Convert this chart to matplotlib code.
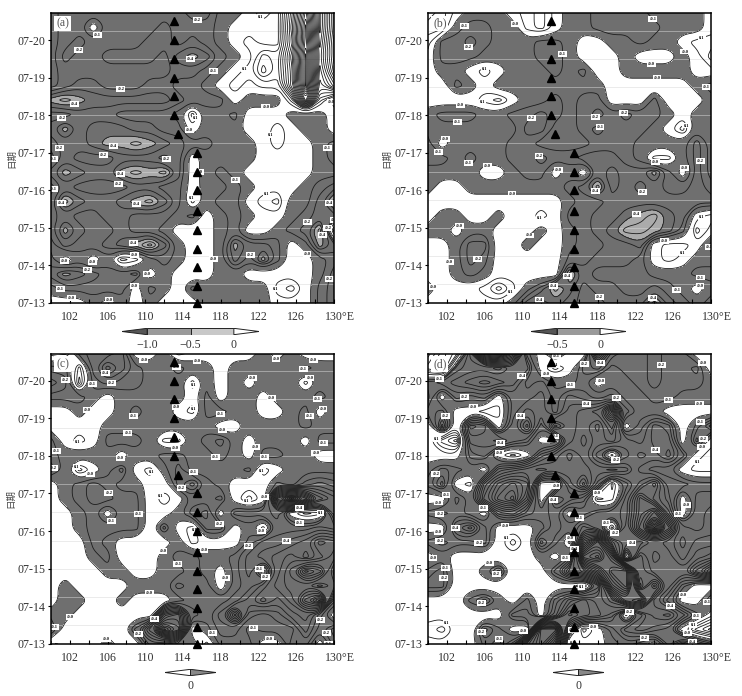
import numpy as np
import matplotlib
matplotlib.use("Agg")
import matplotlib.pyplot as plt
from matplotlib.path import Path
from matplotlib.transforms import ScaledTranslation

plt.rcParams['font.family'] = ['Liberation Serif', 'DejaVu Serif']

# anomaly values in tenths, top row is the latest time
lon = [100 + 1.5*i for i in range(21)]
day = [20.72 - 0.386*i for i in range(21)]

field_a = [
[-1,-2,-2,-2,-2,-2,-2,-2,-2,-2,-3,-3,-1,-1,1,2,1,8,18,6,14],
[-1,-2,-2,1,-2,-2,-2,-2,-3,-2,-2,-2,-1,1,1,1,1,9,20,6,14],
[-1,-2,-3,-2,-2,-2,-2,-3,-3,-2,-3,-2,-1,1,2,1,1,8,20,7,15],
[-1,-3,-2,-2,-3,-3,-3,-3,-2,-4,-5,-4,-2,-1,1,4,3,10,22,8,15],
[-1,-2,-2,-2,-2,-2,-2,-2,-2,-3,-3,-2,-1,1,2,5,3,9,22,7,14],
[-1,-2,-3,-3,-2,-2,-2,-3,-3,-2,-2,-1,1,2,1,2,2,9,22,6,10],
[-5,-6,-5,-4,-4,-4,-4,-4,-4,-3,-2,-2,-2,1,-1,-1,-1,3,16,3,-1],
[-2,-2,-3,-3,-3,-2,-2,-2,-2,-1,3,-1,-1,-2,1,1,1,-1,-1,-1,1],
[-3,-5,-3,-4,-4,-4,-3,-3,-2,-2,1,-1,-1,-1,1,1,2,1,-1,-1,1],
[-2,-3,-3,-4,-5,-5,-6,-5,-4,-3,-2,-2,-1,-1,-1,1,2,1,1,-1,-2],
[-1,-3,-2,-2,-2,-3,-3,-3,-2,-3,1,-1,-1,-1,-1,1,1,1,1,-1,-2],
[-3,-5,-4,-3,-3,-5,-6,-5,-6,-3,1,-1,-2,-1,1,1,1,1,1,-1,-1],
[-1,-3,-2,-2,-2,-2,-3,-3,-2,-2,1,-1,-1,-2,-1,1,1,1,-1,-2,-3],
[-2,-6,-4,-3,-3,-4,-5,-6,-4,-2,2,-1,-2,-2,1,2,3,-1,-1,-3,-6],
[-2,-3,-2,-2,-3,-3,-2,-2,-2,-1,-2,1,-1,-2,-1,1,1,-1,-2,-3,-3],
[-2,-5,-3,-2,-2,-3,-2,-2,-1,1,1,1,-1,-2,1,1,-1,-2,-3,-6,3],
[-1,-3,-2,-2,-3,-4,-5,-7,-4,-1,1,1,-1,-5,-3,-3,-2,1,-1,-5,-3],
[-2,1,-1,1,-1,3,2,-1,-2,-1,1,1,-1,-4,-2,-5,-2,1,1,-1,-2],
[-3,-5,-4,-3,-2,-2,-3,1,-1,1,1,1,-1,-1,1,1,1,1,1,-1,-3],
[-1,-2,-2,-2,-2,-2,1,-2,-1,1,-2,-1,-1,-1,-1,-1,2,3,1,-2,-3],
[1,1,1,-1,1,-1,1,-1,1,1,1,-1,-1,-1,-1,-1,1,1,1,-2,-3],
]

field_b = [
[2,3,1,-1,-1,-1,1,2,3,1,-1,-1,-2,-2,-2,-2,-1,-1,-1,-1,1],
[3,3,-1,-2,-2,-1,-1,2,3,1,-1,-1,-2,-2,-2,-2,-2,-1,-1,-1,1],
[2,-2,-2,-3,-2,-1,-1,-1,-2,-2,-1,1,1,-1,-1,-2,-1,-1,1,2,2],
[1,-2,-2,-2,-1,-1,-1,-1,-2,-2,-1,1,1,1,-1,1,1,1,-1,1,3],
[1,-1,-1,1,2,1,-1,-1,-1,-2,-1,-2,1,1,-1,-1,-1,-1,-1,1,1],
[1,1,-2,-1,1,-1,-1,-1,-1,-1,-1,-1,-1,1,1,1,1,1,1,-1,-2],
[1,1,1,1,2,3,1,-1,-1,-2,-1,-2,-2,1,1,1,-2,1,1,1,-1],
[-1,-2,-2,-2,-1,-1,-2,-2,-3,-2,-1,-2,-3,-2,-3,-2,-2,-1,1,-1,-1],
[-1,-1,-1,-1,-1,-1,-1,-3,-3,-1,-1,-2,-1,-2,-2,-2,-1,1,3,-1,-1],
[-2,1,-1,-1,-1,-1,-2,-2,-1,-1,-1,-1,-2,-2,-2,-1,-1,-1,-1,-3,-1],
[-2,-2,-1,-2,-1,-1,-2,-2,-3,-2,-2,-3,-3,-3,-2,-1,2,2,-1,-3,-1],
[-1,-1,-1,-1,1,1,-1,-2,-2,1,-1,1,-3,-2,-3,-3,-5,-2,1,-3,-1],
[-1,1,1,-1,-1,-1,-1,-1,-1,-1,-2,-3,-6,-2,-3,-2,-3,-2,-2,-3,-2],
[1,1,1,1,1,1,1,1,1,1,-1,-2,-2,-3,-3,-3,-3,-3,-3,-3,-3],
[1,-1,-1,1,1,-1,1,1,2,1,-2,-2,-3,-3,-4,-5,-6,-4,-3,1,2],
[-1,-1,1,-1,-1,1,1,1,-1,1,-1,-2,-3,-4,-6,-6,-5,-4,-2,3,1],
[1,1,-1,-3,-3,1,1,-1,1,1,-1,-2,-2,-3,-3,-4,1,2,2,1,-2],
[1,1,-1,-3,-2,1,1,1,1,1,-2,-2,-3,-3,-3,-2,1,2,1,-1,-1],
[1,1,-1,-2,-1,1,1,1,1,1,-6,-3,-2,-2,-2,-2,-1,-1,-1,-2,-2],
[-1,1,1,1,2,4,2,-1,-3,-6,-4,-2,-3,-3,-2,-2,-3,-2,-1,1,-1],
[1,1,1,1,1,1,-1,-4,-5,-4,-3,-2,-2,-3,-3,-3,-6,-3,-2,-1,-2],
]

field_c = [
[2,3,-2,-3,-3,-4,1,1,-1,2,1,1,1,1,1,-1,1,-1,1,1,1],
[-2,-2,3,-3,-6,-4,-2,-1,-1,-2,-1,-1,1,-1,-1,-1,-1,-1,-2,-1,-1],
[-4,-3,4,-2,-3,-2,-2,-1,-1,-1,2,-1,1,-1,1,-1,-1,-1,2,-1,-1],
[-2,-2,-2,-1,1,-1,-1,-1,-1,-1,1,-2,1,-1,-1,1,-1,-1,-1,-2,-1],
[1,1,-1,1,1,-1,-2,-1,-1,1,2,-2,-2,-1,-1,1,1,-1,-2,1,-1],
[1,1,1,1,-1,-1,-1,-1,-1,-1,-1,-1,1,1,-1,-1,-1,-1,-2,-1,-1],
[-2,1,2,1,-2,-2,-2,-1,2,2,-1,-2,-3,-1,1,-1,-1,-1,1,-2,-2],
[-2,-1,-1,-1,-1,1,-1,-1,-2,-2,-1,-1,-2,-1,1,-2,-2,-1,-1,1,1],
[-3,-1,3,1,-1,-3,1,2,-1,-3,-1,-1,-1,-1,-2,2,1,-1,-1,-1,-1],
[1,-1,-2,-3,-2,-1,-1,1,1,-3,-5,-2,-1,1,1,1,-2,-1,-3,-4,-3],
[1,-1,-2,-3,-3,-2,-2,1,2,1,-2,-2,-3,1,3,1,-14,-20,-14,-8,-6],
[1,1,-1,-2,1,-2,-2,1,1,-1,-3,-4,1,-3,-3,-3,-4,1,3,2,-6],
[1,1,-1,-2,-2,-2,-2,1,-3,1,2,-3,-3,1,-1,2,-3,-3,-3,-4,-3],
[1,1,1,-2,-1,1,1,1,1,-1,2,1,1,1,-2,-4,-4,-5,-6,-9,-8],
[1,1,1,-1,-2,1,1,1,-1,-2,-2,-1,-1,-2,-4,-5,-6,-7,-5,-7,-9],
[1,1,1,1,-1,-1,1,1,-1,-1,-2,-1,1,-2,-4,1,-6,-9,-14,-12,-6],
[1,-1,1,1,1,1,-1,-1,-1,-3,-2,-2,1,-2,-3,-5,-7,-8,-8,-6,-8],
[1,-1,-1,1,1,-1,1,1,1,-1,-2,-2,-2,-3,-5,-7,-5,-7,-12,-16,-3],
[-1,-1,1,1,1,1,1,1,-10,-12,-3,-2,-4,-10,-3,-2,-3,-5,-6,-3,1],
[-3,1,1,1,1,1,-3,-8,-18,-14,1,-1,-3,-3,-1,-2,-2,-2,-5,-2,-4],
[2,1,1,1,-1,1,1,-4,-3,-1,-1,2,-2,-2,-2,1,1,-3,-3,1,-3],
]

field_d = [
[3,6,4,-5,-18,-20,-14,-2,1,-3,1,1,-10,-3,-2,-2,-3,-2,-2,1,1],
[5,7,-3,-4,-4,-3,-5,-5,1,3,1,-3,-4,-1,-2,-2,-3,-2,-2,-3,1],
[-3,-4,-5,-6,-7,-6,-5,-2,-3,-1,-1,-2,1,-1,-1,-2,-3,-2,-2,-2,-1],
[-4,1,-3,-2,-3,1,-3,-3,-4,-2,-4,-3,-2,-3,-1,-1,-2,-2,-1,-1,-1],
[-2,-3,1,1,2,2,-3,-5,-4,-2,-5,-6,-7,-14,-3,-1,-1,1,1,1,1],
[1,-6,1,-7,-6,1,-4,-8,-2,-8,-5,-6,-4,-8,1,-2,-5,-4,1,-2,-5],
[1,4,6,-5,-5,-6,-4,-3,1,1,-5,-7,-5,-6,-4,-3,-5,-5,1,-4,1],
[1,1,1,-3,-4,1,3,1,-4,-6,-8,-6,-3,2,-3,-5,-4,-6,-3,1,2],
[-1,-3,-2,-1,1,-5,-6,-7,-8,-7,-7,-7,-6,-7,-6,-3,-2,-2,1,2,2],
[-2,-5,1,2,-6,-10,-12,-10,1,1,-6,-10,-4,3,-2,-5,-8,-3,-3,-2,-2],
[1,1,-3,-1,-8,-12,-14,-8,1,-6,-4,-3,3,2,-4,-10,-6,-4,1,-3,-3],
[-2,-3,-2,-1,1,-5,-6,-3,-2,-3,1,-1,-3,-3,-4,-10,-14,-6,1,-3,-4],
[1,1,-5,-7,-3,1,1,1,-1,-3,-2,-5,-3,3,-5,-12,-22,-12,-4,-3,-4],
[-2,-3,-2,-2,-3,1,3,1,-5,-2,2,-12,-18,-8,-5,-4,-6,-5,-3,-5,-5],
[1,-1,1,1,1,1,1,1,-1,1,-2,-20,-22,-16,1,-8,-5,-6,-4,-6,-7],
[-2,-3,1,1,-1,-4,1,1,1,-3,-8,-10,-14,-20,-20,-8,-6,-6,-6,-10,-14],
[-3,-3,1,1,1,1,1,1,1,1,1,3,-3,-16,-20,-6,-12,-6,-2,1,1],
[1,1,1,-2,-4,-1,1,-2,1,-3,-6,-8,-6,-8,-14,-16,-6,-3,1,1,-3],
[1,1,1,1,1,1,-3,-3,1,-4,-10,-8,-7,-5,2,-4,-7,-8,-5,-2,1],
[2,3,1,1,-4,-2,1,1,-20,-20,-3,3,1,-2,-5,-6,-5,-4,1,4,6],
[1,1,1,1,-2,-1,-4,-16,-20,-14,2,1,1,-1,-2,-1,1,-4,-8,-5,-3],
]

# typhoon track
track_lon = [115.5,115.5,115.5,115.5,115.5,115.5,115.5,115.5,115.5,113.5,113,113,113,113,113,113]
track_day = [13,13.45,13.95,14.45,14.95,15.45,16,16.5,17,17.5,18,18.5,19,19.5,20,20.5]

xticks = [102,106,110,114,118,122,126,130]
xlabels = ['102','106','110','114','118','122','126','130°E']
yticks = [13,14,15,16,17,18,19,20]
ylabels = ['07-13','07-14','07-15','07-16','07-17','07-18','07-19','07-20']

W, H = 742, 696
fig = plt.figure(figsize=(W/100, H/100), dpi=100)

def px_axes(x0, y0, x1, y1):
    return fig.add_axes([x0/W, 1-y1/H, (x1-x0)/W, (y1-y0)/H])

def on_edge(a):
    return (np.abs(a[:,0]-100) < 1e-6) | (np.abs(a[:,0]-130) < 1e-6) | (np.abs(a[:,1]-13) < 1e-6) | (np.abs(a[:,1]-20.72) < 1e-6)

def round_path(path, passes=3):
    # corner cutting, so the contours are not drawn as grid polygons; edge points stay put
    parts = []
    for v in path.to_polygons(closed_only=False):
        closed = len(v) > 2 and np.allclose(v[0], v[-1])
        if closed:
            v = v[:-1]
        for _ in range(passes):
            a = v if closed else v[:-1]
            b = np.roll(v, -1, axis=0) if closed else v[1:]
            q = np.where(on_edge(a)[:,None], a, 0.75*a+0.25*b)
            r = np.where(on_edge(b)[:,None], b, 0.25*a+0.75*b)
            v = np.empty((2*len(a),2))
            v[0::2] = q
            v[1::2] = r
        if closed:
            v = np.vstack([v, v[:1]])
        parts.append(Path(v))
    if not parts:
        return path
    return Path.make_compound_path(*parts)

def panel(field, box, tag, ylab_x, light):
    ax = px_axes(*box)
    z = np.array(field)[::-1]/10
    x = np.array(lon)
    y = np.array(day)[::-1]
    if light:
        cf = ax.contourf(x, y, z, levels=[-5,-0.45,0,5], colors=['#ababab','#6f6f6f','white'], zorder=1)
    else:
        cf = ax.contourf(x, y, z, levels=[-5,0,5], colors=['#6f6f6f','white'], zorder=1)
    cf.set_paths([round_path(p) for p in cf.get_paths()])
    ax.hlines(np.arange(13.5,20.7,0.75), 100, 130, color='#d8d8d8', lw=0.6, alpha=0.6, zorder=2)
    step = np.arange(0.15,2.4,0.1)
    lv = np.round(np.concatenate([-step[::-1],[0],step]),2)
    cs = ax.contour(x, y, z, levels=lv, colors='#1c1c1c', linewidths=0.6, linestyles='solid', zorder=3)
    cs.set_paths([round_path(p) for p in cs.get_paths()])
    names = {v: '%.1f' % (np.sign(v)*(abs(v)-0.05)) for v in lv}
    lab = ax.clabel(cs, levels=[-0.45,-0.25,-0.15,0,0.15], fontsize=3.2, fmt=names, inline=False)
    fig.canvas.draw()
    kept = [ax.transAxes.transform((0.05,0.96))]
    for t in list(lab):
        p = ax.transData.transform(t.get_position())
        if any(abs(p[0]-k[0]) < 22 and abs(p[1]-k[1]) < 12 for k in kept[:1]) or \
           any(abs(p[0]-k[0]) < 16 and abs(p[1]-k[1]) < 7 for k in kept[1:]):
            t.remove()
            continue
        kept.append(p)
        t.set_rotation(0)
        t.set_fontweight('bold')
        t.set_color('black')
        t.set_bbox(dict(fc='white', ec='none', pad=0.7))
        t.set_zorder(4)
    ax.plot(track_lon, track_day, ls='none', marker='^', ms=6, color='black', clip_on=False, zorder=6)
    ax.set_xlim(100,130)
    ax.set_ylim(13,20.72)
    ax.set_xticks(xticks)
    ax.set_xticks([100,104,108,112,116,120,124,128], minor=True)
    ax.set_xticklabels(xlabels, fontsize=8.6, color='#333333')
    ax.set_yticks(yticks)
    ax.set_yticklabels(ylabels, fontsize=8.6, color='#333333')
    ax.tick_params(axis='x', which='both', direction='in', length=3, width=0.8, pad=6)
    ax.tick_params(axis='y', direction='out', length=2.5, width=0.8, pad=1.5)
    last = ax.get_xticklabels()[-1]
    last.set_transform(last.get_transform()+ScaledTranslation(0.06, 0, fig.dpi_scale_trans))
    for s in ax.spines.values():
        s.set_linewidth(1.1)
        s.set_zorder(7)
    ax.text(0.018, 0.985, tag, transform=ax.transAxes, fontsize=8.5, color='#555555', va='top', ha='left', zorder=8,
            bbox=dict(fc='white', ec='none', pad=1.2))
    fig.text(ylab_x/W, 1-(box[1]+box[3])/2/H, '日期', rotation=90, ha='center', va='center', fontsize=6.8,
             color='#444444', family=['Noto Sans CJK SC','DejaVu Sans'])
    return ax

def colorbar(box, levels, colors, labels, tip):
    # tip is the length of each end triangle in units of the level spacing
    ax = px_axes(*box)
    n = len(levels)
    span = 1 if n == 1 else levels[1]-levels[0]
    ax.fill([levels[0]-tip*span, levels[0], levels[0]], [0,1,-1], fc=colors[0], ec='#222222', lw=0.7)
    for i in range(n-1):
        ax.fill([levels[i],levels[i+1],levels[i+1],levels[i]], [-1,-1,1,1], fc=colors[i+1], ec='#222222', lw=0.7)
    ax.fill([levels[-1]+tip*span, levels[-1], levels[-1]], [0,1,-1], fc=colors[-1], ec='#222222', lw=0.7)
    ax.set_xlim(levels[0]-tip*span, levels[-1]+tip*span)
    ax.set_ylim(-1.1,1.1)
    ax.axis('off')
    for v, s in zip(levels, labels):
        ax.annotate(s, xy=(v,0), xycoords=('data','axes fraction'), xytext=(0,-3), textcoords='offset points',
                    ha='center', va='top', fontsize=8.6, color='#333333')

panel(field_a, (51,13,334,303), '(a)', 12, True)
panel(field_b, (428,13,711,303), '(b)', 387, True)
panel(field_c, (51,353.5,334,644), '(c)', 11, False)
panel(field_d, (428,353.5,711,644), '(d)', 387, False)

colorbar((122,328,259,335), [-1.0,-0.5,0], ['#555555','#9a9a9a','#c8c8c8','white'], ['−1.0','−0.5','0'], 0.58)
colorbar((531,328,626,335), [-0.5,0], ['#555555','#9a9a9a','white'], ['−0.5','0'], 0.6)
colorbar((165,669,216,676), [0], ['white','#888888'], ['0'], 25)
colorbar((553,669,604,676), [0], ['white','#888888'], ['0'], 25)

plt.savefig('out.png', dpi=100)
